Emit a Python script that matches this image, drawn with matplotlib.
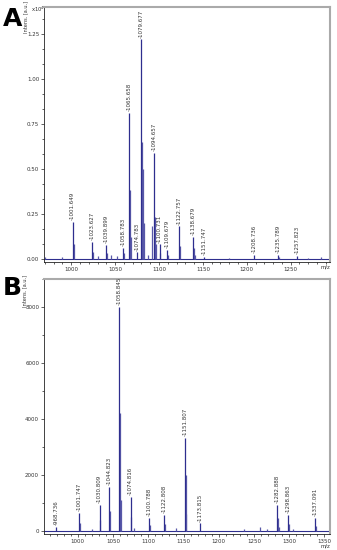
import matplotlib
matplotlib.use("Agg")
import matplotlib.pyplot as plt
from matplotlib.ticker import AutoMinorLocator, MultipleLocator

# =========================
# Panel A peaks (intensity x10^4)
# =========================
a_label_mz = [1001.649, 1023.627, 1039.899, 1058.783, 1065.658, 1074.783, 1079.677, 1094.657,
              1100.731, 1109.679, 1122.757, 1138.679, 1151.747, 1208.736, 1235.789, 1257.823]
a_label_int = [0.205, 0.095, 0.078, 0.06, 0.81, 0.035, 1.22, 0.59,
               0.08, 0.05, 0.18, 0.12, 0.012, 0.02, 0.02, 0.015]
# isotope / side peaks and noise (not labelled)
a_side_mz = [1002.65, 1024.63, 1040.9, 1059.78, 1066.66, 1067.66, 1080.68, 1081.68, 1082.68,
             1092.6, 1095.66, 1096.66, 1101.7, 1110.7, 1123.76, 1139.68, 1140.7,
             970.0, 990.0, 1030.0, 1045.0, 1052.0, 1088.0, 1180.0, 1236.8, 1270.0, 1285.0]
a_side_int = [0.08, 0.04, 0.03, 0.03, 0.38, 0.12, 0.65, 0.5, 0.2,
              0.18, 0.23, 0.08, 0.03, 0.02, 0.07, 0.06, 0.02,
              0.01, 0.01, 0.015, 0.02, 0.015, 0.02, 0.005, 0.01, 0.005, 0.01]

# =========================
# Panel B peaks (intensity a.u.)
# =========================
b_label_mz = [968.736, 1001.747, 1030.809, 1044.823, 1058.845, 1074.816, 1100.788,
              1122.808, 1151.807, 1173.815, 1282.888, 1298.863, 1337.091]
b_label_int = [150, 640, 930, 1570, 8000, 1210, 460, 570, 3320, 280, 930, 570, 460]
b_side_mz = [1002.75, 1031.81, 1045.82, 1059.85, 1060.85, 1075.82, 1101.79, 1123.81,
             1152.81, 1153.81, 1283.89, 1284.89, 1299.86, 1338.09,
             1020.0, 1080.0, 1140.0, 1236.0, 1258.0, 1268.0, 1305.0]
b_side_int = [300, 400, 700, 4200, 1100, 500, 200, 250,
              2000, 600, 450, 150, 250, 180,
              90, 110, 100, 80, 130, 80, 60]

peak_color = '#2e2e8e'
side_color = '#5858a8'
text_color = '#333333'

fig = plt.figure(figsize=(3.37, 5.5), dpi=100)
axA = fig.add_axes([0.1306, 0.524, 0.849, 0.463])
axB = fig.add_axes([0.1306, 0.029, 0.849, 0.464])


def style_axis(ax):
    for side in ['left', 'bottom']:
        ax.spines[side].set_color('#222222')
        ax.spines[side].set_linewidth(0.6)
    for side in ['top', 'right']:
        ax.spines[side].set_color('#aaaaaa')
        ax.spines[side].set_linewidth(1.5)
    ax.tick_params(which='both', direction='out', colors='#222222', labelsize=4.0,
                   width=0.5, labelcolor=text_color, pad=1)
    ax.tick_params(which='major', length=2.5)
    ax.tick_params(which='minor', length=1.5)
    ax.xaxis.set_minor_locator(AutoMinorLocator(5))


# ----- Panel A -----
axA.axhline(0, color=peak_color, linewidth=0.8)
axA.vlines(a_side_mz, 0, a_side_int, color=side_color, linewidth=0.9)
axA.vlines(a_label_mz, 0, a_label_int, color=peak_color, linewidth=0.9)
for m, h in zip(a_label_mz, a_label_int):
    axA.text(m, h + 0.01, '-' + f'{m:.3f}', rotation=90, ha='center', va='bottom',
             fontsize=4.0, color=text_color)
axA.set_xlim(969, 1295)
axA.set_ylim(-0.017, 1.40)
axA.yaxis.set_major_locator(MultipleLocator(0.25))
axA.yaxis.set_major_formatter(plt.FuncFormatter(lambda v, p: f'{v:.2f}'))
axA.yaxis.set_minor_locator(AutoMinorLocator(3))
axA.xaxis.set_major_locator(MultipleLocator(50))
style_axis(axA)

# ----- Panel B -----
axB.axhline(0, color=peak_color, linewidth=0.8)
axB.vlines(b_side_mz, 0, b_side_int, color=side_color, linewidth=0.9)
axB.vlines(b_label_mz, 0, b_label_int, color=peak_color, linewidth=0.9)
for m, h in zip(b_label_mz, b_label_int):
    axB.text(m, h + 60, '-' + f'{m:.3f}', rotation=90, ha='center', va='bottom',
             fontsize=4.0, color=text_color)
axB.set_xlim(952, 1358)
axB.set_ylim(-107, 9000)
axB.yaxis.set_major_locator(MultipleLocator(2000))
axB.yaxis.set_minor_locator(AutoMinorLocator(2))
axB.xaxis.set_major_locator(MultipleLocator(50))
style_axis(axB)

# ----- Labels -----
fig.text(26 / 337, 1 - 17 / 550, 'Intens. [a.u.]', rotation=90, ha='center', va='center',
         fontsize=3.6, color=text_color)
fig.text(38 / 337, 1 - 9 / 550, 'x10$^4$', ha='center', va='center',
         fontsize=3.8, color=text_color)
fig.text(325 / 337, 1 - 267 / 550, 'm/z', ha='center', va='center',
         fontsize=3.8, color=text_color)
fig.text(25 / 337, 1 - 291 / 550, 'Intens. [a.u.]', rotation=90, ha='center', va='center',
         fontsize=3.6, color=text_color)
fig.text(325 / 337, 1 - 546.5 / 550, 'm/z', ha='center', va='center',
         fontsize=3.8, color=text_color)

fig.text(12.5 / 337, 1 - 19 / 550, 'A', ha='center', va='center', fontsize=18,
         fontweight='bold', color='black')
fig.text(12 / 337, 1 - 288 / 550, 'B', ha='center', va='center', fontsize=18,
         fontweight='bold', color='black')

fig.savefig('out.png', dpi=100)
